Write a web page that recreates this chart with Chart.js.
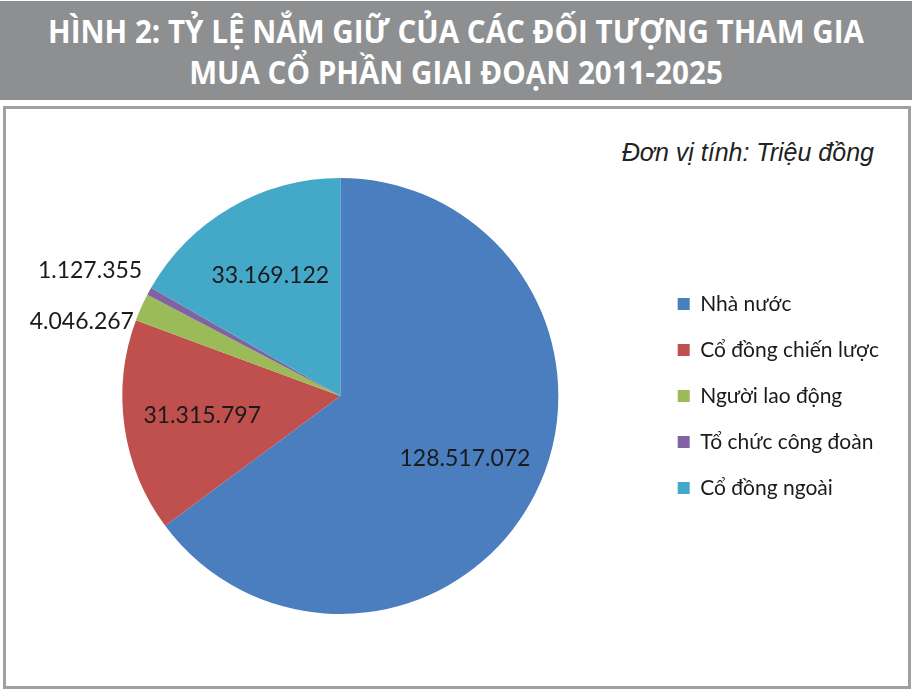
<!DOCTYPE html>
<html>
<head>
<meta charset="utf-8">
<script src="https://cdn.jsdelivr.net/npm/chart.js@4.4.1/dist/chart.umd.min.js"></script>
<style>
  html, body { margin: 0; padding: 0; background: #fff; }
  #page { position: relative; width: 912px; height: 689px; overflow: hidden; }
  #banner {
    position: absolute; left: 0; top: 1px; width: 912px; height: 99px;
    background: #8e8f91; color: #fff; text-align: center;
  }
  #banner div {
    position: absolute; left: 0; width: 912px;
    font-family: "Open Sans", sans-serif; font-weight: 700; font-size: 32px;
    transform: scaleX(0.925); transform-origin: center;
  }
  #box {
    position: absolute; left: 3px; top: 106px; width: 902px; height: 577px;
    border: 3px solid #a0a0a0; background: #fff;
  }
  #unit {
    position: absolute; right: 38px; top: 138px;
    font-family: "Liberation Sans", Arial, sans-serif; font-style: italic; font-size: 25px; color: #222;
  }
  #chart { position: absolute; left: 0; top: 0; }
</style>
</head>
<body>
<div id="page">
  <div id="banner">
    <div style="top:8px">HÌNH 2: TỶ LỆ NẮM GIỮ CỦA CÁC ĐỐI TƯỢNG THAM GIA</div>
    <div style="top:49px">MUA CỔ PHẦN GIAI ĐOẠN 2011-2025</div>
  </div>
  <div id="box"></div>
  <div id="unit">Đơn vị tính: Triệu đồng</div>
  <canvas id="chart" width="912" height="689"></canvas>
</div>
<script>
// data (triệu đồng)
var labels = ["Nhà nước", "Cổ đồng chiến lược", "Người lao động", "Tổ chức công đoàn", "Cổ đồng ngoài"];
var values = [128517072, 31315797, 4046267, 1127355, 33169122];
var colors = ["#4a7ebf", "#c0504d", "#9bbb59", "#8064a2", "#44a9c8"];

function fmt(v) {
    return String(v).replace(/\B(?=(\d{3})+(?!\d))/g, ".");
}

// value labels, small slices go outside and get spread apart
var pieLabels = {
    id: "pieLabels",
    afterDatasetsDraw(chart) {
        var ctx = chart.ctx;
        var meta = chart.getDatasetMeta(0);
        var total = values.reduce((a, b) => a + b, 0);
        var outside = [];
        ctx.save();
        ctx.font = "23px Lato, sans-serif";
        ctx.fillStyle = "#1a1a1a";
        ctx.textBaseline = "middle";
        meta.data.forEach((arc, i) => {
            var mid = (arc.startAngle + arc.endAngle) / 2;
            if (values[i] / total > 0.05) {
                var r = arc.outerRadius * 0.64;
                ctx.textAlign = "center";
                ctx.fillText(fmt(values[i]), arc.x + Math.cos(mid) * r, arc.y + Math.sin(mid) * r);
            } else {
                var r2 = arc.outerRadius + 8;
                outside.push({i: i, x: arc.x + Math.cos(mid) * r2, y: arc.y + Math.sin(mid) * r2});
            }
        });
        outside.sort((a, b) => a.y - b.y);
        var gap = 51;
        var mean = outside.reduce((a, o) => a + o.y, 0) / (outside.length || 1);
        outside.forEach((o, k) => {
            o.y = mean + (k - (outside.length - 1) / 2) * gap;
            ctx.textAlign = o.x < meta.data[0].x ? "right" : "left";
            ctx.fillText(fmt(values[o.i]), o.x, o.y);
        });
        ctx.restore();
    }
};

var ctx = document.getElementById("chart").getContext("2d");
var myPie = new Chart(ctx, {
    type: "pie",
    data: {
        labels: labels,
        datasets: [{
            data: values,
            backgroundColor: colors,
            borderWidth: 0
        }]
    },
    options: {
        responsive: false,
        animation: false,
        layout: { padding: { top: 178, bottom: 75, left: 28, right: 23 } },
        plugins: {
            tooltip: { enabled: false },
            legend: {
                position: "right",
                labels: {
                    boxWidth: 12,
                    boxHeight: 12,
                    padding: 25,
                    color: "#1a1a1a",
                    font: { family: "Lato, sans-serif", size: 21 }
                }
            }
        }
    },
    plugins: [pieLabels]
});
</script>
</body>
</html>
